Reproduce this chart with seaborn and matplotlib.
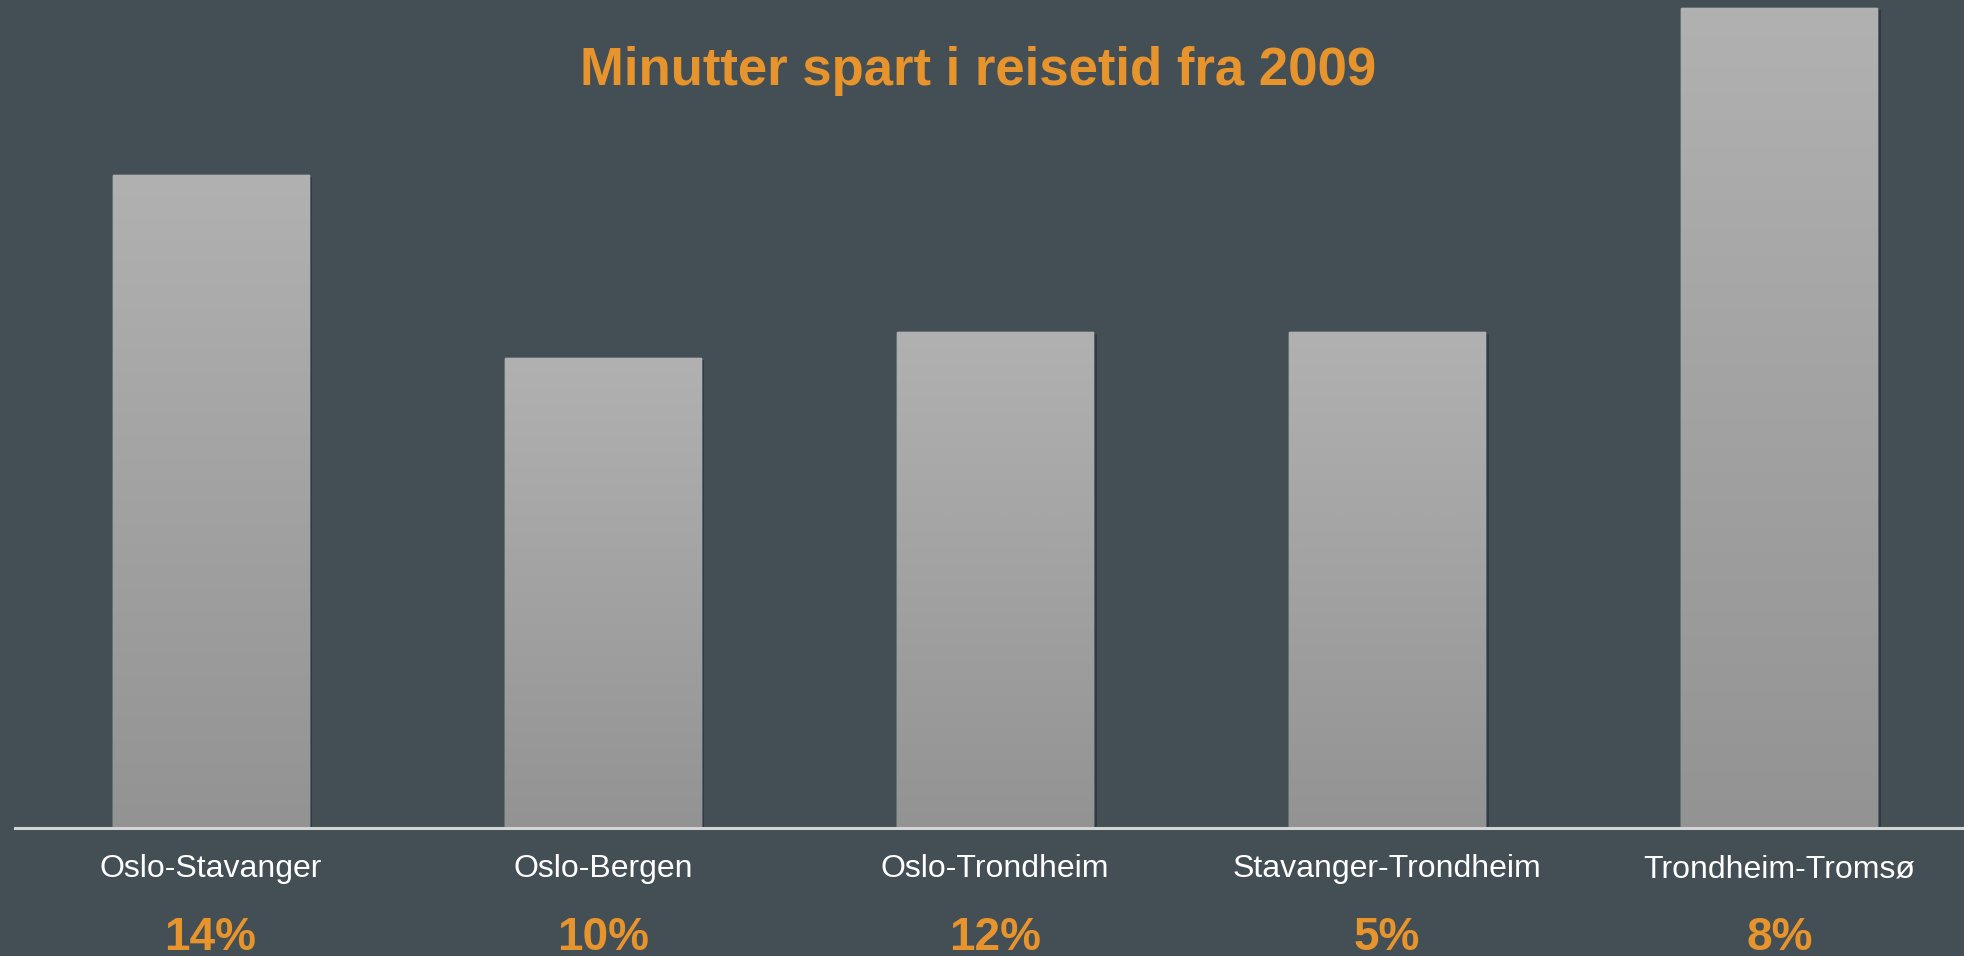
import numpy as np
import matplotlib
matplotlib.use("Agg")
import matplotlib.pyplot as plt
import matplotlib.patheffects as pe
from matplotlib.colors import LinearSegmentedColormap
from matplotlib.transforms import blended_transform_factory
import seaborn as sns

# ── Data ───────────────────────────────────────────────────────────────────────

routes = ["Oslo-Stavanger", "Oslo-Bergen", "Oslo-Trondheim",
          "Stavanger-Trondheim", "Trondheim-Tromsø"]
minutes_saved = [20.0, 14.4, 15.2, 15.2, 25.1]
pct_labels = ["14%", "10%", "12%", "5%", "8%"]

title = "Minutter spart i reisetid fra 2009"

# ── Style ──────────────────────────────────────────────────────────────────────

BG = "#434e55"
ORANGE = "#e8942d"
sns.set_theme(style="white")
plt.rcParams["font.family"] = ["Liberation Sans", "DejaVu Sans"]

fig = plt.figure(figsize=(19.64, 9.56), dpi=100, facecolor=BG)
W, H = 1964, 956
ax = fig.add_axes([14.5 / W, 128 / H, 1961 / W, 828 / H])
ax.set_facecolor(BG)

# ── Bars ───────────────────────────────────────────────────────────────────────

sns.barplot(x=routes, y=minutes_saved, color="#a2a2a2", width=0.5,
            saturation=1, ax=ax, zorder=2)

# vertical grey gradient inside each bar, plus a soft drop shadow
grad = LinearSegmentedColormap.from_list("bar", ["#939393", "#b1b1b1"])
g = np.linspace(0, 1, 256).reshape(-1, 1)
for p in ax.patches:
    p.set_path_effects([pe.SimplePatchShadow(offset=(2.5, -1.5), shadow_rgbFace="#1e262b",
                                             alpha=0.45), pe.Normal()])
    x0, y0 = p.get_x(), p.get_y()
    im = ax.imshow(g, cmap=grad, aspect="auto", origin="lower", zorder=3,
                   extent=(x0, x0 + p.get_width(), y0, y0 + p.get_height()))
    im.set_clip_path(p)
ax.set_xlim(-0.5, 4.5)
ax.set_ylim(0, 25.35)

# ── Axes cosmetics ─────────────────────────────────────────────────────────────

for side in ["top", "right", "left"]:
    ax.spines[side].set_visible(False)
ax.spines["bottom"].set_color("#d4d4d4")
ax.spines["bottom"].set_linewidth(2.2)
ax.spines["bottom"].set_zorder(4)
ax.set_yticks([])
ax.tick_params(axis="x", length=0, pad=19, labelsize=23, labelcolor="white")
ax.set_xlabel("")
ax.set_ylabel("")

# ── Labels ─────────────────────────────────────────────────────────────────────

trans = blended_transform_factory(ax.transData, fig.transFigure)
for i, lab in enumerate(pct_labels):
    ax.text(i, 1 - 916 / H, lab, transform=trans, ha="center", va="top",
            fontsize=33, fontweight="bold", color=ORANGE, clip_on=False)

fig.text(978 / W, 1 - 71 / H, title, ha="center", va="center",
         fontsize=38, fontweight="bold", color=ORANGE)

fig.savefig("out.png", dpi=100, facecolor=BG)
